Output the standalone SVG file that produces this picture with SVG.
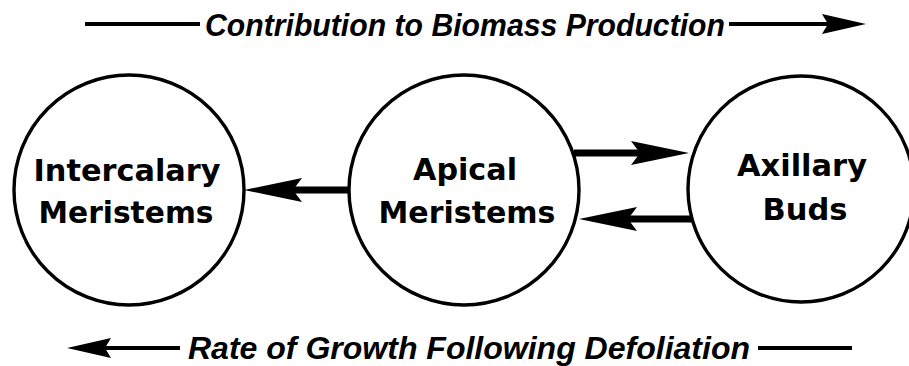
<svg xmlns="http://www.w3.org/2000/svg" xmlns:xlink="http://www.w3.org/1999/xlink" width="909" height="366" viewBox="0 0 909 366">
<style>
.node{fill:#fff;stroke:#000;stroke-width:3.4}
.ntext{font-family:"DejaVu Sans","Liberation Sans",sans-serif;font-size:30px;font-weight:bold;fill:#000;text-anchor:middle}
.label{font-family:"Liberation Sans",Arial,sans-serif;font-size:31px;font-style:italic;font-weight:bold;fill:#000}
.conn{stroke:#000;stroke-width:7;fill:none}
.lconn{stroke:#000;stroke-width:4;fill:none}
.head{fill:#000}
</style>
<defs>
<path id="bigHead" class="head" d="M0,0 L-58,-12 L-49,0 L-58,12 Z"/>
<path id="smallHead" class="head" d="M0,0 L-44,-10 L-38,0 L-44,10 Z"/>
</defs>
<rect width="909" height="366" fill="#fff"/>
<g id="intercalary">
<circle class="node" cx="129" cy="190" r="115"/>
<text class="ntext" x="127" y="181" textLength="187" lengthAdjust="spacingAndGlyphs">Intercalary</text>
<text class="ntext" x="126" y="223" textLength="175" lengthAdjust="spacingAndGlyphs">Meristems</text>
</g>
<g id="apical">
<circle class="node" cx="464" cy="190" r="115"/>
<text class="ntext" x="465" y="180" textLength="104" lengthAdjust="spacingAndGlyphs">Apical</text>
<text class="ntext" x="467" y="223" textLength="177" lengthAdjust="spacingAndGlyphs">Meristems</text>
</g>
<g id="axillary">
<circle class="node" cx="801" cy="189" r="113"/>
<text class="ntext" x="802" y="176" textLength="130" lengthAdjust="spacingAndGlyphs">Axillary</text>
<text class="ntext" x="805" y="220" textLength="85" lengthAdjust="spacingAndGlyphs">Buds</text>
</g>
<g id="connectors">
<line class="conn" x1="350" y1="190" x2="290" y2="190"/>
<use xlink:href="#bigHead" transform="translate(244,190) rotate(180)"/>
<line class="conn" x1="574" y1="153" x2="640" y2="153"/>
<use xlink:href="#bigHead" transform="translate(689,153)"/>
<line class="conn" x1="692" y1="219" x2="625" y2="219"/>
<use xlink:href="#bigHead" transform="translate(579,219) rotate(180)"/>
</g>
<g id="top-label">
<line class="lconn" x1="85" y1="24" x2="200" y2="24"/>
<text class="label" x="205" y="36" textLength="520" lengthAdjust="spacingAndGlyphs">Contribution to Biomass Production</text>
<line class="lconn" x1="729" y1="24" x2="830" y2="24"/>
<use xlink:href="#smallHead" transform="translate(866,24)"/>
</g>
<g id="bottom-label">
<use xlink:href="#smallHead" transform="translate(67,348) rotate(180)"/>
<line class="lconn" x1="100" y1="348" x2="180" y2="348"/>
<text class="label" x="188" y="359" textLength="562" lengthAdjust="spacingAndGlyphs">Rate of Growth Following Defoliation</text>
<line class="lconn" x1="758" y1="348" x2="852" y2="348"/>
</g>
</svg>
